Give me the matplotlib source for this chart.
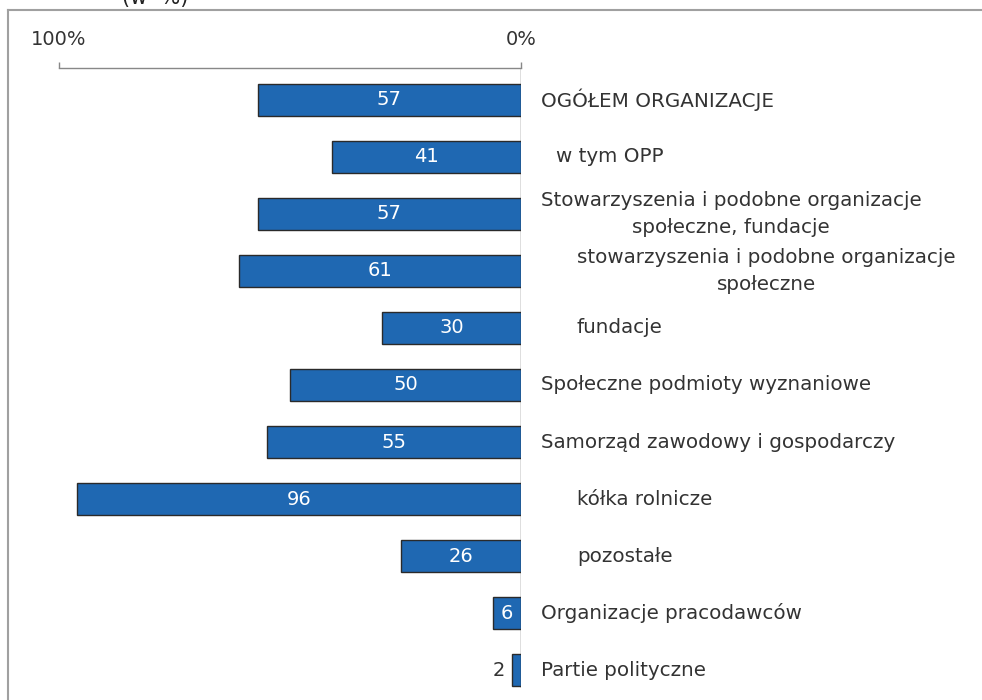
import matplotlib
matplotlib.use("Agg")
import matplotlib.pyplot as plt
from matplotlib.lines import Line2D

categories = [
    "OGÓŁEM ORGANIZACJE",
    "w tym OPP",
    "Stowarzyszenia i podobne organizacje\nspołeczne, fundacje",
    "stowarzyszenia i podobne organizacje\nspołeczne",
    "fundacje",
    "Społeczne podmioty wyznaniowe",
    "Samorząd zawodowy i gospodarczy",
    "kółka rolnicze",
    "pozostałe",
    "Organizacje pracodawców",
    "Partie polityczne",
]
values = [57, 41, 57, 61, 30, 50, 55, 96, 26, 6, 2]
indent_px = [20, 35, 20, 56, 56, 20, 20, 56, 56, 20, 20]
tick_values = [100, 0]
tick_labels = ["100%", "0%"]

W, H = 982, 700
fig = plt.figure(figsize=(W / 100, H / 100), dpi=100)
fig.patch.set_facecolor("white")

# axes: x from px 59 (100%) to 521 (0%), y from px 68 to 700
ax = fig.add_axes([59 / W, 0, (521 - 59) / W, (700 - 68) / H])
ax.set_xlim(100, 0)
ax.set_ylim(10.526, -0.561)

ys = list(range(len(values)))
ax.barh(ys, values, height=32 / 57, color="#1f68b2", edgecolor="#2a2a2a", linewidth=1.0, zorder=3)

for y, v in zip(ys, values):
    if v >= 5:
        ax.text(v / 2, y, str(v), ha="center", va="center", color="white", fontsize=14, zorder=4)
    else:
        ax.annotate(str(v), xy=(v, y), xytext=(-5, 0), textcoords="offset points",
                    ha="right", va="center", color="#333333", fontsize=14)

for y, lab, ind in zip(ys, categories, indent_px):
    ax.annotate(lab, xy=(0, y), xytext=(ind * 0.72, 0), textcoords="offset points",
                ha="left", va="center", multialignment="center", color="#333333",
                fontsize=14.3, linespacing=1.55, annotation_clip=False)

ax.axvline(0, color="#d8d8d8", lw=1.2, ymin=0.02, zorder=1)

for s in ["left", "right", "bottom"]:
    ax.spines[s].set_visible(False)
ax.spines["top"].set_color("#888888")
ax.spines["top"].set_linewidth(1.0)
ax.xaxis.tick_top()
ax.set_xticks(tick_values)
ax.set_xticklabels(tick_labels, fontsize=14, color="#333333")
ax.tick_params(axis="x", direction="out", length=4, width=1, color="#888888", pad=10)
ax.set_yticks([])
ax.patch.set_visible(False)

# frame
fig.add_artist(Line2D([8 / W, 1], [1 - 10 / H, 1 - 10 / H], color="#a0a0a0", lw=1.5))
fig.add_artist(Line2D([8 / W, 8 / W], [0, 1 - 10 / H], color="#a0a0a0", lw=1.5))

# title, cut off at the top edge as in the source
fig.text(122 / W, 1 - 4 / H, "(w  %)", fontsize=15, color="#222222", ha="left", va="baseline")

fig.savefig("out.png", dpi=100, facecolor="white")
